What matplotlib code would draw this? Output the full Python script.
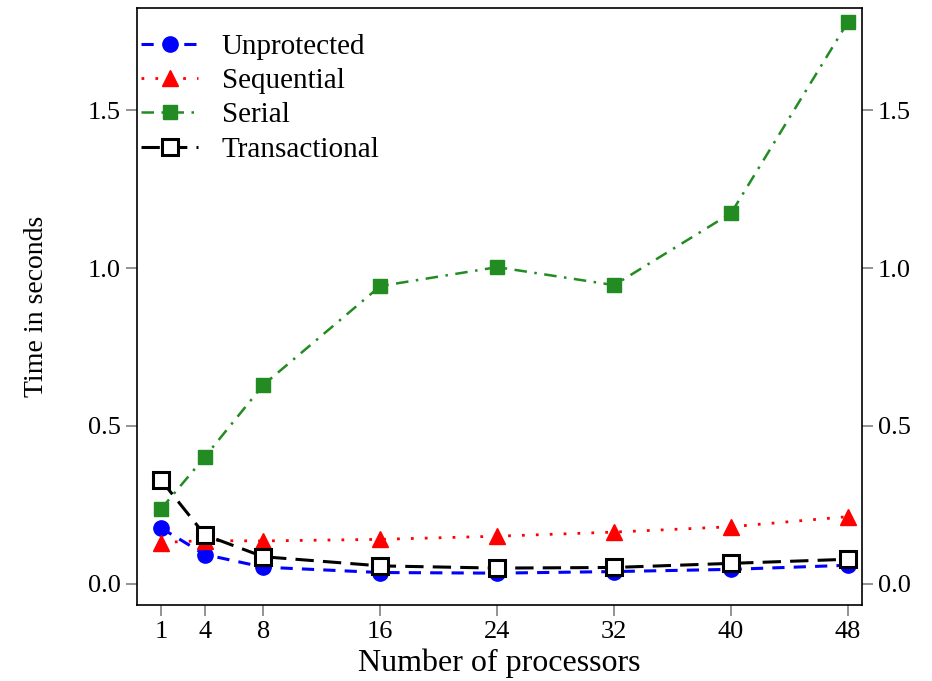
import matplotlib
matplotlib.use('Agg')
import matplotlib.pyplot as plt

procs = [1, 4, 8, 16, 24, 32, 40, 48]
unprotected = [0.177, 0.093, 0.053, 0.036, 0.034, 0.039, 0.046, 0.059]
sequential = [0.131, 0.137, 0.136, 0.141, 0.151, 0.164, 0.181, 0.213]
serial = [0.237, 0.402, 0.630, 0.943, 1.003, 0.946, 1.174, 1.780]
transactional = [0.329, 0.155, 0.086, 0.057, 0.050, 0.052, 0.065, 0.078]

plt.rcParams['font.family'] = ['Liberation Serif', 'DejaVu Serif']

fig = plt.figure(figsize=(9.32, 6.81), dpi=100)
ax = fig.add_axes([0.147, 0.112, 0.778, 0.876])

ax.plot(procs, unprotected, color='blue', linestyle=(0, (4, 3)), linewidth=2.2,
        marker='o', markersize=11, label='Unprotected')
ax.plot(procs, sequential, color='red', linestyle=(0, (1, 4)), linewidth=2.0,
        marker='^', markersize=11, label='Sequential')
ax.plot(procs, serial, color='#228B22', linestyle=(0, (5, 3, 1, 3)), linewidth=1.8,
        marker='s', markersize=10, label='Serial')
ax.plot(procs, transactional, color='black', linestyle=(0, (6, 3)), linewidth=2.2,
        marker='s', markersize=11, markerfacecolor='white', markeredgewidth=2.2,
        label='Transactional')

ax.set_xlim(-0.64, 48.96)
ax.set_ylim(-0.066, 1.823)
ax.set_xticks(procs)
ax.set_yticks([0.0, 0.5, 1.0, 1.5])
ax.set_yticklabels(['0.0', '0.5', '1.0', '1.5'])
ax.tick_params(direction='out', length=8, color='grey', labelsize=19, width=1.2)
ax.tick_params(axis='y', right=True, labelright=True)
for s in ax.spines.values():
    s.set_linewidth(1.2)

ax.set_xlabel('Number of processors', fontsize=23, labelpad=4)
ax.set_ylabel('Time in seconds', fontsize=20, labelpad=28)

ax.legend(loc='upper left', frameon=False, fontsize=21, handlelength=1.95,
          borderaxespad=0.0, borderpad=0.15, labelspacing=0.27, handletextpad=0.8,
          bbox_to_anchor=(0.0, 0.965))

plt.savefig('out.png', dpi=100)
